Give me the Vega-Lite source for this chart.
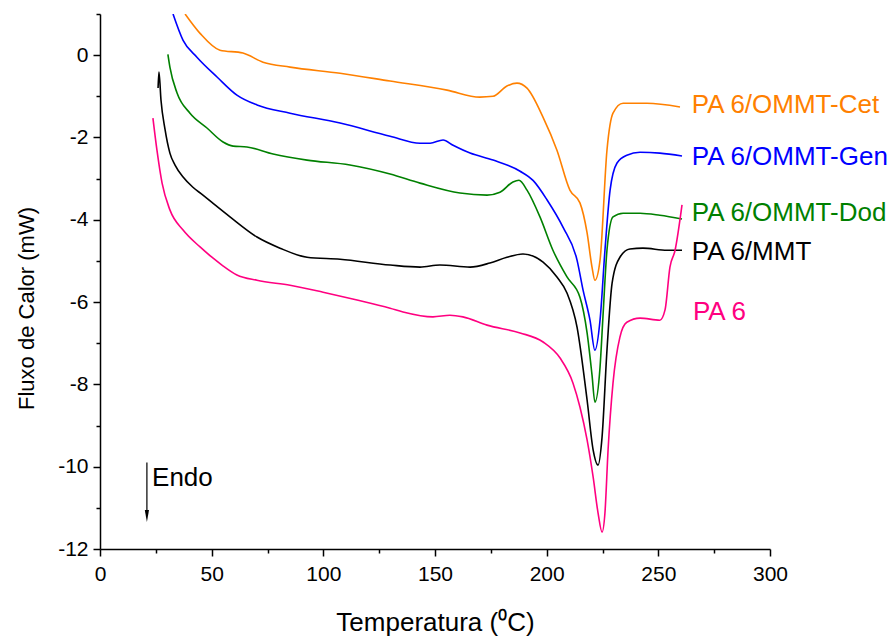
{
  "$schema": "https://vega.github.io/schema/vega-lite/v6.json",
  "width": 670,
  "height": 535,
  "autosize": "none",
  "padding": {"left": 100, "top": 14, "right": 123, "bottom": 89},
  "background": "white",
  "config": {
    "view": {"stroke": null},
    "font": "Liberation Sans",
    "axis": {"grid": false, "domainColor": "black", "tickColor": "black", "labelColor": "black", "titleColor": "black", "labelFont": "Liberation Sans", "titleFont": "Liberation Sans", "titleFontWeight": "normal", "domainWidth": 1.5, "tickWidth": 1.5}
  },
  "resolve": {"axis": {"x": "independent", "y": "independent"}},
  "datasets": {
    "curves": [
      {"s": "Cet", "x": 38.1, "y": 1.0}, {"s": "Cet", "x": 44.8, "y": 0.53}, {"s": "Cet", "x": 53.7, "y": 0.12}, {"s": "Cet", "x": 64.0, "y": 0.05}, {"s": "Cet", "x": 73.0, "y": -0.17}, {"s": "Cet", "x": 85.1, "y": -0.29}, {"s": "Cet", "x": 107.5, "y": -0.44}, {"s": "Cet", "x": 129.9, "y": -0.63}, {"s": "Cet", "x": 155.4, "y": -0.85}, {"s": "Cet", "x": 170.1, "y": -1.02}, {"s": "Cet", "x": 176.0, "y": -1.0}, {"s": "Cet", "x": 182.2, "y": -0.75}, {"s": "Cet", "x": 186.7, "y": -0.68}, {"s": "Cet", "x": 191.2, "y": -0.8}, {"s": "Cet", "x": 198.4, "y": -1.51}, {"s": "Cet", "x": 204.6, "y": -2.31}, {"s": "Cet", "x": 210.4, "y": -3.28}, {"s": "Cet", "x": 214.9, "y": -3.59}, {"s": "Cet", "x": 218.1, "y": -4.32}, {"s": "Cet", "x": 220.3, "y": -5.15}, {"s": "Cet", "x": 221.6, "y": -5.47}, {"s": "Cet", "x": 223.9, "y": -4.98}, {"s": "Cet", "x": 227.0, "y": -2.31}, {"s": "Cet", "x": 229.7, "y": -1.41}, {"s": "Cet", "x": 234.2, "y": -1.17}, {"s": "Cet", "x": 244.9, "y": -1.17}, {"s": "Cet", "x": 259.7, "y": -1.26},
      {"s": "Gen", "x": 32.7, "y": 1.0}, {"s": "Gen", "x": 37.2, "y": 0.36}, {"s": "Gen", "x": 43.4, "y": -0.05}, {"s": "Gen", "x": 52.4, "y": -0.53}, {"s": "Gen", "x": 61.3, "y": -0.97}, {"s": "Gen", "x": 70.3, "y": -1.21}, {"s": "Gen", "x": 85.1, "y": -1.41}, {"s": "Gen", "x": 107.5, "y": -1.65}, {"s": "Gen", "x": 129.9, "y": -1.97}, {"s": "Gen", "x": 143.3, "y": -2.14}, {"s": "Gen", "x": 147.8, "y": -2.14}, {"s": "Gen", "x": 153.6, "y": -2.06}, {"s": "Gen", "x": 158.1, "y": -2.19}, {"s": "Gen", "x": 165.7, "y": -2.38}, {"s": "Gen", "x": 176.0, "y": -2.55}, {"s": "Gen", "x": 188.1, "y": -2.82}, {"s": "Gen", "x": 194.0, "y": -3.05}, {"s": "Gen", "x": 200.2, "y": -3.52}, {"s": "Gen", "x": 207.3, "y": -4.18}, {"s": "Gen", "x": 213.6, "y": -4.98}, {"s": "Gen", "x": 216.3, "y": -5.71}, {"s": "Gen", "x": 219.4, "y": -6.44}, {"s": "Gen", "x": 221.6, "y": -7.17}, {"s": "Gen", "x": 223.9, "y": -6.44}, {"s": "Gen", "x": 226.1, "y": -4.74}, {"s": "Gen", "x": 228.4, "y": -3.28}, {"s": "Gen", "x": 231.5, "y": -2.62}, {"s": "Gen", "x": 235.9, "y": -2.43}, {"s": "Gen", "x": 241.8, "y": -2.36}, {"s": "Gen", "x": 250.7, "y": -2.38}, {"s": "Gen", "x": 260.6, "y": -2.45},
      {"s": "Dod", "x": 30.4, "y": 0.02}, {"s": "Dod", "x": 31.3, "y": -0.29}, {"s": "Dod", "x": 34.5, "y": -0.92}, {"s": "Dod", "x": 40.3, "y": -1.41}, {"s": "Dod", "x": 47.9, "y": -1.77}, {"s": "Dod", "x": 55.1, "y": -2.11}, {"s": "Dod", "x": 59.6, "y": -2.21}, {"s": "Dod", "x": 65.8, "y": -2.23}, {"s": "Dod", "x": 77.5, "y": -2.4}, {"s": "Dod", "x": 92.7, "y": -2.55}, {"s": "Dod", "x": 111.9, "y": -2.67}, {"s": "Dod", "x": 129.9, "y": -2.89}, {"s": "Dod", "x": 143.3, "y": -3.11}, {"s": "Dod", "x": 161.2, "y": -3.35}, {"s": "Dod", "x": 173.3, "y": -3.4}, {"s": "Dod", "x": 179.1, "y": -3.33}, {"s": "Dod", "x": 184.9, "y": -3.08}, {"s": "Dod", "x": 187.6, "y": -3.04}, {"s": "Dod", "x": 191.2, "y": -3.28}, {"s": "Dod", "x": 197.0, "y": -3.93}, {"s": "Dod", "x": 202.8, "y": -4.74}, {"s": "Dod", "x": 209.1, "y": -5.39}, {"s": "Dod", "x": 214.9, "y": -5.88}, {"s": "Dod", "x": 218.1, "y": -6.75}, {"s": "Dod", "x": 220.3, "y": -7.77}, {"s": "Dod", "x": 221.6, "y": -8.43}, {"s": "Dod", "x": 223.9, "y": -7.58}, {"s": "Dod", "x": 225.2, "y": -6.36}, {"s": "Dod", "x": 227.0, "y": -4.74}, {"s": "Dod", "x": 229.7, "y": -3.93}, {"s": "Dod", "x": 234.2, "y": -3.84}, {"s": "Dod", "x": 241.8, "y": -3.84}, {"s": "Dod", "x": 250.7, "y": -3.89}, {"s": "Dod", "x": 260.6, "y": -3.98},
      {"s": "MMT", "x": 26.0, "y": -0.8}, {"s": "MMT", "x": 26.4, "y": -0.41}, {"s": "MMT", "x": 27.3, "y": -1.09}, {"s": "MMT", "x": 29.1, "y": -1.8}, {"s": "MMT", "x": 31.3, "y": -2.38}, {"s": "MMT", "x": 33.6, "y": -2.67}, {"s": "MMT", "x": 37.2, "y": -2.96}, {"s": "MMT", "x": 41.6, "y": -3.21}, {"s": "MMT", "x": 46.1, "y": -3.4}, {"s": "MMT", "x": 51.5, "y": -3.64}, {"s": "MMT", "x": 58.2, "y": -3.93}, {"s": "MMT", "x": 70.3, "y": -4.42}, {"s": "MMT", "x": 80.6, "y": -4.69}, {"s": "MMT", "x": 92.7, "y": -4.91}, {"s": "MMT", "x": 107.5, "y": -4.96}, {"s": "MMT", "x": 129.9, "y": -5.1}, {"s": "MMT", "x": 143.3, "y": -5.15}, {"s": "MMT", "x": 152.2, "y": -5.1}, {"s": "MMT", "x": 165.7, "y": -5.15}, {"s": "MMT", "x": 174.6, "y": -5.05}, {"s": "MMT", "x": 182.2, "y": -4.91}, {"s": "MMT", "x": 189.4, "y": -4.83}, {"s": "MMT", "x": 198.4, "y": -5.03}, {"s": "MMT", "x": 204.6, "y": -5.39}, {"s": "MMT", "x": 209.1, "y": -5.78}, {"s": "MMT", "x": 213.6, "y": -6.61}, {"s": "MMT", "x": 218.1, "y": -8.38}, {"s": "MMT", "x": 220.8, "y": -9.59}, {"s": "MMT", "x": 223.0, "y": -9.96}, {"s": "MMT", "x": 224.8, "y": -9.28}, {"s": "MMT", "x": 227.0, "y": -7.17}, {"s": "MMT", "x": 229.3, "y": -5.54}, {"s": "MMT", "x": 232.8, "y": -4.91}, {"s": "MMT", "x": 237.3, "y": -4.71}, {"s": "MMT", "x": 243.1, "y": -4.69}, {"s": "MMT", "x": 253.9, "y": -4.74}, {"s": "MMT", "x": 260.6, "y": -4.74},
      {"s": "PA6", "x": 23.7, "y": -1.53}, {"s": "PA6", "x": 25.5, "y": -2.31}, {"s": "PA6", "x": 27.8, "y": -3.11}, {"s": "PA6", "x": 31.3, "y": -3.76}, {"s": "PA6", "x": 37.2, "y": -4.25}, {"s": "PA6", "x": 44.8, "y": -4.66}, {"s": "PA6", "x": 50.1, "y": -4.91}, {"s": "PA6", "x": 54.6, "y": -5.1}, {"s": "PA6", "x": 61.3, "y": -5.34}, {"s": "PA6", "x": 70.3, "y": -5.47}, {"s": "PA6", "x": 85.1, "y": -5.59}, {"s": "PA6", "x": 99.9, "y": -5.76}, {"s": "PA6", "x": 115.1, "y": -5.95}, {"s": "PA6", "x": 129.9, "y": -6.15}, {"s": "PA6", "x": 135.7, "y": -6.24}, {"s": "PA6", "x": 149.1, "y": -6.36}, {"s": "PA6", "x": 156.7, "y": -6.32}, {"s": "PA6", "x": 162.5, "y": -6.36}, {"s": "PA6", "x": 173.3, "y": -6.56}, {"s": "PA6", "x": 188.1, "y": -6.75}, {"s": "PA6", "x": 198.4, "y": -6.97}, {"s": "PA6", "x": 206.0, "y": -7.36}, {"s": "PA6", "x": 211.8, "y": -7.97}, {"s": "PA6", "x": 214.9, "y": -8.55}, {"s": "PA6", "x": 218.1, "y": -9.35}, {"s": "PA6", "x": 220.8, "y": -10.25}, {"s": "PA6", "x": 223.0, "y": -11.12}, {"s": "PA6", "x": 224.8, "y": -11.59}, {"s": "PA6", "x": 226.1, "y": -11.12}, {"s": "PA6", "x": 227.5, "y": -9.59}, {"s": "PA6", "x": 229.7, "y": -7.97}, {"s": "PA6", "x": 232.8, "y": -6.85}, {"s": "PA6", "x": 235.9, "y": -6.49}, {"s": "PA6", "x": 241.8, "y": -6.39}, {"s": "PA6", "x": 250.7, "y": -6.44}, {"s": "PA6", "x": 253.0, "y": -6.19}, {"s": "PA6", "x": 255.2, "y": -5.15}, {"s": "PA6", "x": 257.5, "y": -4.74}, {"s": "PA6", "x": 260.6, "y": -3.64}
    ],
    "labels": [
      {"s": "Cet", "x": 265, "y": -1.21, "t": "PA 6/OMMT-Cet"},
      {"s": "Gen", "x": 265, "y": -2.48, "t": "PA 6/OMMT-Gen"},
      {"s": "Dod", "x": 265, "y": -3.84, "t": "PA 6/OMMT-Dod"},
      {"s": "MMT", "x": 265, "y": -4.78, "t": "PA 6/MMT"},
      {"s": "PA6", "x": 265.5, "y": -6.24, "t": "PA 6"}
    ],
    "arrow": [{"x": 21, "y": -9.9, "y2": -11.1, "hy": -11.2, "tx": 23.3, "ty": -10.27, "t": "Endo"}]
  },
  "layer": [
    {
      "data": {"name": "curves"},
      "mark": {"type": "line", "strokeWidth": 1.6, "interpolate": "monotone", "clip": true},
      "encoding": {
        "x": {"field": "x", "type": "quantitative", "scale": {"domain": [0, 300], "nice": false, "zero": false},
              "axis": {"orient": "bottom", "values": [0, 50, 100, 150, 200, 250, 300], "tickSize": 7, "labelFontSize": 21, "labelPadding": 7, "labelFlush": false, "labelExpr": "'' + datum.value", "title": "Temperatura (⁰C)", "titleFontSize": 26, "titlePadding": 25}},
        "y": {"field": "y", "type": "quantitative", "scale": {"domain": [-12, 1], "nice": false, "zero": false},
              "axis": {"orient": "left", "values": [-12, -10, -8, -6, -4, -2, 0], "tickSize": 7, "labelFontSize": 21, "labelPadding": 5, "labelFlush": false, "labelExpr": "'' + datum.value", "title": "Fluxo de Calor (mW)", "titleFontSize": 22, "titlePadding": 19, "titleY": 294}},
        "color": {"field": "s", "type": "nominal", "scale": {"domain": ["Cet", "Gen", "Dod", "MMT", "PA6"], "range": ["#FF8000", "#0000FF", "#008000", "#000000", "#FF0080"]}, "legend": null}
      }
    },
    {
      "data": {"name": "labels"},
      "mark": {"type": "point", "opacity": 0},
      "encoding": {
        "x": {"field": "x", "type": "quantitative", "scale": {"domain": [0, 300], "nice": false, "zero": false},
              "axis": {"orient": "bottom", "values": [25, 75, 125, 175, 225, 275], "tickSize": 4, "labels": false, "domain": false, "title": null}},
        "y": {"field": "y", "type": "quantitative", "scale": {"domain": [-12, 1], "nice": false, "zero": false},
              "axis": {"orient": "left", "values": [-11, -9, -7, -5, -3, -1, 1], "tickSize": 4, "labels": false, "domain": false, "title": null}}
      }
    },
    {
      "data": {"name": "labels"},
      "mark": {"type": "text", "align": "left", "baseline": "middle", "fontSize": 26, "font": "Liberation Sans"},
      "encoding": {
        "x": {"field": "x", "type": "quantitative", "axis": null},
        "y": {"field": "y", "type": "quantitative", "axis": null},
        "text": {"field": "t"},
        "color": {"field": "s", "type": "nominal", "legend": null}
      }
    },
    {
      "data": {"name": "arrow"},
      "mark": {"type": "rule", "color": "black", "strokeWidth": 1.2},
      "encoding": {
        "x": {"field": "x", "type": "quantitative", "axis": null},
        "y": {"field": "y", "type": "quantitative", "axis": null},
        "y2": {"field": "y2"}
      }
    },
    {
      "data": {"name": "arrow"},
      "mark": {"type": "point", "shape": "M-0.35,-1L0.35,-1L0,1Z", "filled": true, "color": "black", "opacity": 1, "size": 144},
      "encoding": {
        "x": {"field": "x", "type": "quantitative", "axis": null},
        "y": {"field": "hy", "type": "quantitative", "axis": null}
      }
    },
    {
      "data": {"name": "arrow"},
      "mark": {"type": "text", "align": "left", "baseline": "middle", "fontSize": 26, "font": "Liberation Sans", "color": "black"},
      "encoding": {
        "x": {"field": "tx", "type": "quantitative", "axis": null},
        "y": {"field": "ty", "type": "quantitative", "axis": null},
        "text": {"field": "t"}
      }
    }
  ]
}
